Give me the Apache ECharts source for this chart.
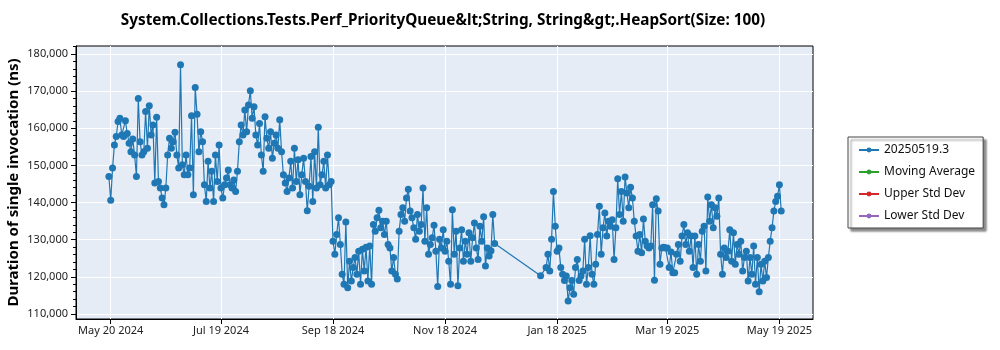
<!DOCTYPE html>
<html>
<head>
<meta charset="utf-8">
<title>HeapSort(Size: 100)</title>
<script src="https://cdn.jsdelivr.net/npm/echarts@6/dist/echarts.min.js"></script>
<style>
  html, body { margin: 0; padding: 0; background: #fff; }
  #chart { width: 1000px; height: 350px; }
</style>
</head>
<body>
<div id="chart"></div>
<script>
var chartTitle = 'System.Collections.Tests.Perf_PriorityQueue&lt;String, String&gt;.HeapSort(Size: 100)';
var yName = 'Duration of single invocation (ns)';
var seriesNames = ['20250519.3', 'Moving Average', 'Upper Std Dev', 'Lower Std Dev'];
var seriesColors = ['#1f77b4', '#2ca02c', '#d62728', '#9467bd'];

// x tick dates and y tick values
var xTickDates = ['2024-05-20', '2024-07-19', '2024-09-18', '2024-11-18', '2025-01-18', '2025-03-19', '2025-05-19'];
var yTickValues = [110000, 120000, 130000, 140000, 150000, 160000, 170000, 180000];

// one value per day from the start date of each run, null = no result that day
var may2024 = [147000, 140600, 149300, 155500, 157800, 161800, 162700, 158200, 157800, 162000, 158600, 156000, 153700];
var jun2024 = [157100, 152800, 147000, 168000, 156400, 152800, 153700, 164500, 154600, 166100, 158200, 160900, 145300, 163000, 145700,
               143900, 141200, 139400, 143900, 152800, 157300, 154600, 156400, 158900, 152800, 149300, 177100, 150200, 147500, 152800];
var jul2024 = [147500, 149300, 163400, 142100, 171000, 163800, 153700, 159100, 156400, 144800, 140300, 151100, 143900, 148400, 140300,
               152800, 145700, 155500, 143900, 141200, 144800, 146600, 148800, 144800, 143900, 146100, 143000, 148400, 156400, 160900, 158200];
var aug2024 = [164900, 159100, 166300, 170100, 162700, 165800, 158200, 155500, 161300, 152800, 148400, 163100, 157300, 154600, 159100,
               151900, 156000, 158200, 154600, 162300, 153700, 147500, 145300, 143000, 146600, 151100, 143900, 154600, 145700, 151500, 142100];
var sep2024 = [147500, 151900, 145700, 137800, 144400, 152400, 140300, 153700, 143900, 160300, 144800, 147500, 151100, 143900, 152800,
               144800, 145700, 129600, 126100, 131400, 135900, 128700, 120700, 118000, 134800, 117100, 124200, 118900, 122500, 125200];
var oct2024 = [120700, 126900, 118000, 127400, 121600, 128000, 118900, 128300, 118000, 134100, 132300, 135900, 137900, 133200, 135000,
               131400, 135000, 128700, 127800, 121600, 125200, 120700, 119400, 132300, 136800, 138600, 135000, 141200, 143600, 137700, 135900];
var nov2024 = [133200, 130100, 136800, 132300, 134100, 143900, 129600, 138600, 126100, 128700, 130500, 133900, 126900, 117400, 130100,
               127800, 132700, 126900, 129600, 124200, 118000, 138100, 126100, 132300, 117600, 127800, 132700, 124200, 129600, 126100];
var dec2024 = [131900, 124200, 130500, 134500, 127800, 124700, 133600, 129600, 136200, 122900, 127800, 125600, 127000, 136800, 129000];
var jan2025 = [120300, null, null, 122500, 126100, 121600, 130100, 143000, 133600, 126900, 127800, 122500, 120700, 119000, 120200,
               113500, 117100, 119000, 115300, 122500, 124700, 119000, 120200];
var feb2025 = [121600, 130100, 118000, 122500, 131100, 120700, 118000, 123400, 131400, 139000, 126100, 133200, 137200, 131000,
               135000, 133600, 135400, 124700, 133200, 146400, 136800, 143000, 135000, 146900, 142600, 138600, 144100, 141200];
var mar2025 = [135000, 131000, 126900, 131400, 126500, 135600, 129600, 128300, 127800, 128300, 139400, 119100, 141000, 137700, 123400,
               127800, 128000, 127800, 127800, 122500, 126700, 121100, 121100, 126100, 128700, 124200, 131000, 134100, 128700, 131900, 126900];
var apr2025 = [131000, 122500, 131000, 120700, 128700, 124200, 132300, 133600, 121600, 141500, 135000, 139400, 133200, 138600, 136300,
               141200, 126100, 120700, 127800, 125200, 126900, 132700, 124200, 131900, 123400, 128700, 126100, 129600, 121600, 125200];
var may2025 = [126900, 118900, 125200, 120700, 128300, 118000, 125200, 116000, 123400, 118900, 124200, 119800, 125200, 129600, 133200,
               137700, 140300, 141700, 144800, 137700];

var runs = [
    ['2024-05-19', may2024], ['2024-06-01', jun2024], ['2024-07-01', jul2024], ['2024-08-01', aug2024],
    ['2024-09-01', sep2024], ['2024-10-01', oct2024], ['2024-11-01', nov2024], ['2024-12-01', dec2024],
    ['2025-01-09', jan2025], ['2025-02-01', feb2025], ['2025-03-01', mar2025], ['2025-04-01', apr2025],
    ['2025-05-01', may2025]
];

var DAY = 864e5;
var monthNames = ['Jan', 'Feb', 'Mar', 'Apr', 'May', 'Jun', 'Jul', 'Aug', 'Sep', 'Oct', 'Nov', 'Dec'];

function toTime(s) { return Date.parse(s + 'T00:00:00Z'); }

var points = [];
runs.forEach(function (r) {
    var t0 = toTime(r[0]);
    r[1].forEach(function (v, i) {
        if (v !== null) points.push([t0 + i * DAY, v]);
    });
});

var xTicks = xTickDates.map(toTime);
var xMin = xTicks[0] - 18.9 * DAY;
var xMax = xTicks[0] + 382.3 * DAY;

var minorTicks = [];
for (var v = 110000; v <= 182000; v += 2000) {
    if (v % 10000 !== 0) minorTicks.push(v);
}

function fmtDate(val) {
    var d = new Date(val);
    return monthNames[d.getUTCMonth()] + ' ' + d.getUTCDate() + ' ' + d.getUTCFullYear();
}
function fmtNum(val) {
    return String(Math.round(val)).replace(/\B(?=(\d{3})+(?!\d))/g, ',');
}

var font = '"Noto Sans", "Open Sans", sans-serif';
var myChart = echarts.init(document.getElementById('chart'), null, { renderer: 'canvas' });

var option = {
    animation: false,
    backgroundColor: '#fff',
    textStyle: { fontFamily: font },
    title: {
        text: chartTitle,
        left: 438,
        top: 8,
        textAlign: 'center',
        textStyle: { fontFamily: font, fontSize: 15.3, fontWeight: 'bold', color: '#000' }
    },
    legend: {
        orient: 'vertical',
        left: 848,
        top: 137,
        data: seriesNames,
        itemWidth: 20,
        itemHeight: 6,
        itemGap: 10,
        padding: [7, 8, 6, 10],
        backgroundColor: '#fff',
        borderColor: '#444',
        borderWidth: 1,
        borderRadius: 0,
        shadowColor: 'rgba(0,0,0,0.45)',
        shadowBlur: 2,
        shadowOffsetX: 3,
        shadowOffsetY: 3,
        textStyle: { fontFamily: font, fontSize: 12, color: '#111' }
    },
    grid: {
        left: 76,
        right: 187,
        top: 46,
        bottom: 31,
        containLabel: false,
        outerBoundsMode: 'none',
        show: true,
        backgroundColor: '#E5ECF6',
        borderColor: '#000',
        borderWidth: 1
    },
    xAxis: {
        type: 'value',
        min: xMin,
        max: xMax,
        axisLine: { show: true, lineStyle: { color: '#000', width: 1 } },
        axisTick: { show: true, length: 5, customValues: xTicks, lineStyle: { color: '#000' } },
        axisLabel: {
            customValues: xTicks,
            formatter: fmtDate,
            fontFamily: font, fontSize: 11, color: '#222', margin: 6
        },
        splitLine: { show: true, lineStyle: { color: '#fff', width: 1 } }
    },
    yAxis: [{
        type: 'value',
        min: 108654,
        max: 182154,
        name: yName,
        nameLocation: 'middle',
        nameGap: 55,
        nameMoveOverlap: false,
        nameTextStyle: { fontFamily: font, fontSize: 15, fontWeight: 'bold', color: '#000' },
        axisLine: { show: true, lineStyle: { color: '#000', width: 1 } },
        axisTick: { show: true, length: 5, customValues: yTickValues, lineStyle: { color: '#000' } },
        axisLabel: {
            customValues: yTickValues,
            formatter: fmtNum,
            fontFamily: font, fontSize: 11, color: '#222', margin: 8
        },
        splitLine: { show: true, lineStyle: { color: '#fff', width: 1 } }
    }, {
        type: 'value',
        min: 108654,
        max: 182154,
        position: 'left',
        axisLine: { show: false },
        axisLabel: { show: false },
        splitLine: { show: false },
        axisTick: { show: true, length: 3, customValues: minorTicks, lineStyle: { color: '#000' } }
    }],
    series: [{
        name: seriesNames[0],
        type: 'line',
        data: points,
        symbol: 'circle',
        symbolSize: 7,
        showSymbol: true,
        itemStyle: { color: seriesColors[0] },
        lineStyle: { color: seriesColors[0], width: 1.2 },
        z: 3
    }, {
        name: seriesNames[1], type: 'line', data: [], symbol: 'circle',
        itemStyle: { color: seriesColors[1] }, lineStyle: { color: seriesColors[1], width: 1 }
    }, {
        name: seriesNames[2], type: 'line', data: [], symbol: 'circle',
        itemStyle: { color: seriesColors[2] }, lineStyle: { color: seriesColors[2], width: 1 }
    }, {
        name: seriesNames[3], type: 'line', data: [], symbol: 'circle',
        itemStyle: { color: seriesColors[3] }, lineStyle: { color: seriesColors[3], width: 1 }
    }]
};

myChart.setOption(option);
</script>
</body>
</html>
